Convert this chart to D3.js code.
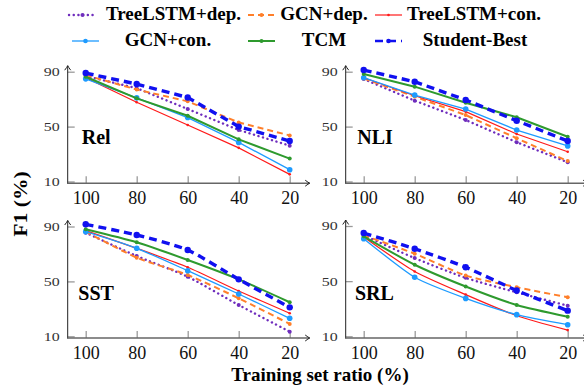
<!DOCTYPE html>
<html><head><meta charset="utf-8">
<script src="https://cdn.jsdelivr.net/npm/d3@7"></script>
<style>html,body{margin:0;padding:0;background:#fff;} svg{display:block} svg text{font-family:"Liberation Serif","Times New Roman",Times,"DejaVu Serif",serif;}</style>
</head><body>
<svg id="c" width="584" height="385"></svg>
<script>
// ---------------- data ----------------
const ratios = [100, 80, 60, 40, 20];
const yTickValues = [10, 50, 90];
const panelNames = ["Rel", "NLI", "SST", "SRL"];
const seriesNames = ["TreeLSTM+dep.", "GCN+dep.", "TreeLSTM+con.", "GCN+con.", "TCM", "Student-Best"];
// values per series, in the order of seriesNames, at ratios 100..20
const relValues = [
  [86.8, 78.0, 62.8, 47.5, 36.1],
  [87.5, 77.0, 68.4, 53.0, 43.6],
  [85.6, 67.7, 51.2, 34.5, 15.2],
  [84.8, 70.9, 56.6, 38.5, 18.6],
  [86.3, 70.6, 57.9, 40.7, 26.7],
  [89.0, 81.0, 71.2, 50.0, 39.5]
];
const nliValues = [
  [84.6, 68.9, 54.8, 38.6, 24.0],
  [85.1, 71.8, 58.4, 41.5, 24.9],
  [85.6, 72.5, 60.9, 44.6, 31.7],
  [85.6, 73.0, 62.8, 47.5, 35.9],
  [88.3, 79.1, 67.4, 56.8, 42.6],
  [91.2, 82.7, 69.4, 54.3, 39.5]
];
const sstValues = [
  [85.5, 68.5, 53.4, 32.8, 13.4],
  [86.2, 67.3, 54.7, 37.7, 19.0],
  [87.0, 74.1, 60.3, 43.0, 26.8],
  [86.2, 74.1, 57.8, 40.8, 23.1],
  [88.0, 78.5, 65.6, 51.5, 34.8],
  [91.6, 83.8, 72.9, 51.5, 31.1]
];
const srlValues = [
  [83.2, 66.7, 52.4, 41.9, 32.2],
  [83.2, 69.9, 54.1, 45.6, 38.3],
  [82.0, 57.0, 40.2, 24.9, 14.5],
  [80.8, 52.8, 37.5, 25.7, 18.4],
  [82.5, 61.9, 46.1, 32.7, 24.2],
  [84.9, 73.5, 60.1, 43.2, 28.6]
];
const panelValues = [relValues, nliValues, sstValues, srlValues];

// ---------------- styles / layout ----------------
const styles = [
  {color: "#6f2dbd", width: 2.4, dash: "0.1 4.6", cap: "round", r: 2.0},
  {color: "#ff7f2a", width: 2.0, dash: "6 4", cap: "butt", r: 2.0},
  {color: "#ff1a1a", width: 1.2, dash: null, cap: "butt", r: 1.3},
  {color: "#1e9bff", width: 1.3, dash: null, cap: "butt", r: 2.8},
  {color: "#2e9a2e", width: 2.0, dash: null, cap: "butt", r: 2.0},
  {color: "#1010f0", width: 3.4, dash: "8 5", cap: "butt", r: 3.2}
];
const geo = [
  {left: 67.7, y90: 71.7, y10: 181.5, axisY: 183.2, lx: 81.7, ly: 144, smooth: false},
  {left: 345.7, y90: 71.7, y10: 181.5, axisY: 183.2, lx: 357.3, ly: 144, smooth: false},
  {left: 67.7, y90: 226.5, y10: 336.3, axisY: 338.0, lx: 78.3, ly: 300, smooth: true},
  {left: 345.7, y90: 226.0, y10: 336.3, axisY: 338.0, lx: 355, ly: 300, smooth: true}
];
const legendPos = [
  {sx: 69, tx: 173.5, y: 15, ty: 20},
  {sx: 248, tx: 324, y: 15, ty: 20},
  {sx: 375, tx: 474, y: 15, ty: 20},
  {sx: 72, tx: 168, y: 41, ty: 45.5},
  {sx: 248, tx: 324, y: 41, ty: 45.5},
  {sx: 375, tx: 475, y: 41, ty: 45.5}
];

const svg = d3.select("#c");

panelNames.forEach((name, pi) => {
  const g = geo[pi];
  const x = d3.scaleLinear().domain([100, 20]).range([g.left + 18, g.left + 222]);
  const y = d3.scaleLinear().domain([10, 90]).range([g.y10, g.y90]);
  const pg = svg.append("g");

  // x axis ticks
  const xa = pg.append("g").attr("transform", `translate(0,${g.axisY})`)
    .call(d3.axisBottom(x).tickValues(ratios).tickFormat(d3.format("d")).tickSize(-7).tickSizeOuter(0).tickPadding(8));
  xa.attr("font-family", null);
  xa.select(".domain").remove();
  xa.selectAll(".tick line").attr("stroke", "#9a9a9a").attr("stroke-width", 1.3);
  xa.selectAll(".tick text").style("font-size", "18px").attr("fill", "#111");

  // y axis ticks
  const ya = pg.append("g").attr("transform", `translate(${g.left},0)`)
    .call(d3.axisLeft(y).tickValues(yTickValues).tickSize(-7).tickSizeOuter(0).tickPadding(8));
  ya.attr("font-family", null);
  ya.select(".domain").remove();
  ya.selectAll(".tick line").attr("stroke", "#9a9a9a").attr("stroke-width", 1.3);
  ya.selectAll(".tick text").style("font-size", "12px").attr("fill", "#333")
    .attr("x", -8 / 1.33).attr("transform", "scale(1.33,1)");

  // axis lines with arrows
  const top = g.y90 - 6;
  const right = g.left + 242;
  pg.append("line").attr("x1", g.left).attr("x2", g.left).attr("y1", g.axisY + 0.7).attr("y2", top)
    .attr("stroke", "#222").attr("stroke-width", 1);
  pg.append("path").attr("d", `M${g.left - 3},${top + 4.5} Q${g.left - 0.6},${top + 1.3} ${g.left},${top} Q${g.left + 0.6},${top + 1.3} ${g.left + 3},${top + 4.5}`)
    .attr("fill", "none").attr("stroke", "#222").attr("stroke-width", 1);
  pg.append("line").attr("x1", g.left).attr("x2", right).attr("y1", g.axisY).attr("y2", g.axisY)
    .attr("stroke", "#666").attr("stroke-width", 1.6);
  pg.append("path").attr("d", `M${right - 4.5},${g.axisY - 3} Q${right - 1.3},${g.axisY - 0.6} ${right},${g.axisY} Q${right - 1.3},${g.axisY + 0.6} ${right - 4.5},${g.axisY + 3}`)
    .attr("fill", "none").attr("stroke", "#222").attr("stroke-width", 1);

  // series
  const line = d3.line().x((d, i) => x(ratios[i])).y(d => y(d))
    .curve(g.smooth ? d3.curveCardinal.tension(0.35) : d3.curveLinear);
  panelValues[pi].forEach((vals, si) => {
    const s = styles[si];
    pg.append("path").datum(vals).attr("d", line).attr("fill", "none")
      .attr("stroke", s.color).attr("stroke-width", s.width)
      .attr("stroke-dasharray", s.dash).attr("stroke-linecap", s.cap);
    pg.selectAll(null).data(vals).enter().append("circle")
      .attr("cx", (d, i) => x(ratios[i])).attr("cy", d => y(d)).attr("r", s.r).attr("fill", s.color);
  });

  // panel label
  pg.append("text").attr("x", g.lx).attr("y", g.ly).text(name)
    .style("font-weight", "bold").style("font-size", "20px").attr("fill", "#000");
});

// axis titles
svg.append("text").attr("transform", "translate(26.5,204) rotate(-90) scale(1.2,1)")
  .attr("text-anchor", "middle").style("font-weight", "bold")
  .style("font-size", "18px").text("F1 (%)");
svg.append("text").attr("x", 320).attr("y", 381).attr("text-anchor", "middle")
  .style("font-weight", "bold").style("font-size", "19px").text("Training set ratio (%)");

// legend
seriesNames.forEach((nm, si) => {
  const p = legendPos[si], s = styles[si];
  const lg = svg.append("g");
  lg.append("line").attr("x1", p.sx).attr("x2", p.sx + 27).attr("y1", p.y).attr("y2", p.y)
    .attr("stroke", s.color).attr("stroke-width", Math.min(s.width, 2.6))
    .attr("stroke-dasharray", s.dash).attr("stroke-linecap", s.cap);
  lg.append("circle").attr("cx", p.sx + 13.5).attr("cy", p.y).attr("r", Math.min(s.r, 2.3)).attr("fill", s.color);
  lg.append("text").attr("x", p.tx).attr("y", p.ty).attr("text-anchor", "middle")
    .style("font-weight", "bold").style("font-size", "19px").text(nm);
});
</script>
</body></html>
